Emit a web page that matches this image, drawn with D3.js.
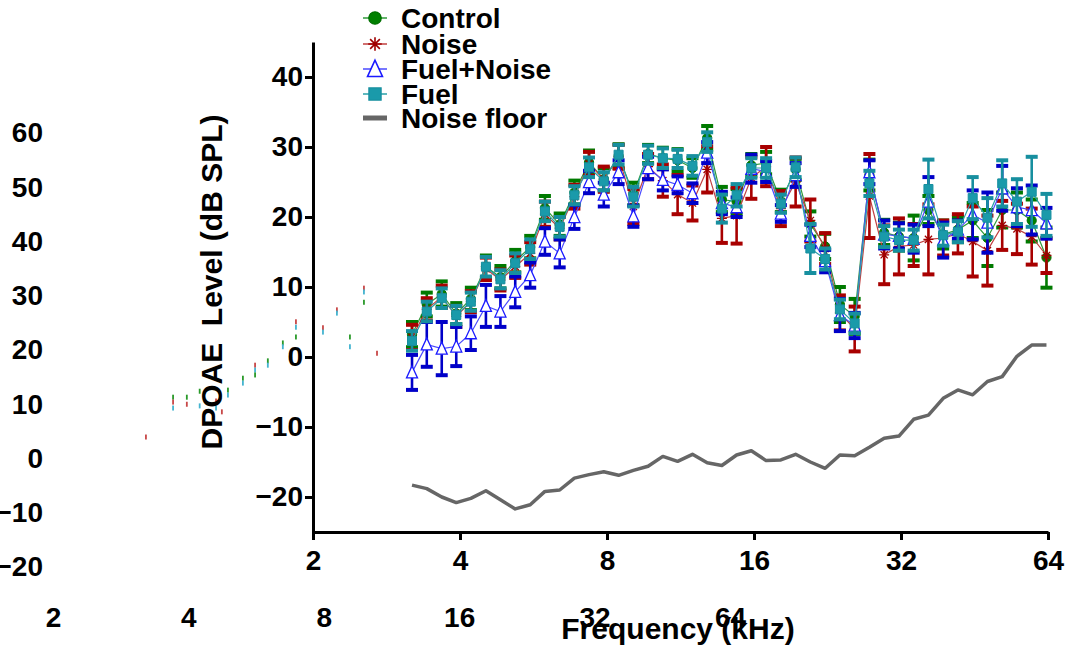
<!DOCTYPE html>
<html><head><meta charset="utf-8">
<script src="https://cdn.jsdelivr.net/npm/d3@7"></script>
<style>
body{margin:0;background:#fff}
text{font-family:"Liberation Sans",Arial,sans-serif;font-weight:bold;fill:#000}
</style>
</head><body>
<svg id="c" width="1065" height="649"></svg>
<script>
// ---------- data ----------
const freqs = [3.19,3.42,3.67,3.93,4.21,4.52,4.84,5.19,5.57,5.97,6.40,6.86,7.35,7.88,8.45,9.06,9.71,10.41,11.16,11.97,12.83,13.75,14.74,15.80,16.94,18.16,19.47,20.87,22.38,23.99,25.72,27.57,29.56,31.69,33.97,36.42,39.04,41.85,44.87,48.10,51.57,55.28,59.27,63.54];

const controlMean = [3.2,7.5,9.0,6.2,8.3,12.9,11.4,13.7,15.7,21.3,18.9,23.5,27.8,25.4,28.7,23.3,29.0,28.4,28.1,27.0,31.3,22.5,22.2,27.4,27.7,22.3,26.8,19.0,15.8,7.5,5.8,26.0,17.8,17.2,17.0,21.0,17.5,18.2,19.5,17.0,21.0,21.0,19.5,14.2];
const controlErr  = [1.8,1.7,1.8,1.5,1.6,1.6,1.6,1.6,1.6,1.7,1.6,1.7,1.7,1.6,1.7,1.6,1.3,1.5,1.6,1.4,1.7,1.8,1.8,1.6,1.6,1.6,1.5,1.8,1.8,2.5,2.5,2.2,1.8,2.0,3.2,2.0,2.0,1.8,2.5,4.0,2.5,2.5,3.0,4.3];

const noiseMean = [2.8,6.8,8.6,5.8,7.9,12.6,11.0,12.9,14.8,20.4,18.4,22.9,27.6,25.4,28.6,21.5,27.2,25.2,23.2,22.0,26.8,19.8,20.2,25.6,27.2,21.2,25.0,19.5,15.5,6.3,4.0,23.0,14.6,15.8,16.0,16.8,17.0,17.6,16.5,15.2,18.8,18.3,17.2,14.5];
const noiseErr  = [1.8,1.6,1.6,1.5,1.5,1.6,1.5,1.6,1.6,1.8,1.6,1.7,1.7,1.8,1.7,2.5,1.8,2.3,2.8,2.5,3.3,3.5,4.0,3.0,2.8,2.5,3.5,3.0,2.2,2.5,3.2,6.0,4.2,4.0,3.0,5.0,2.5,2.8,5.0,5.0,3.5,3.6,4.0,2.5];

const fuelNoiseMean = [-2.2,1.8,1.2,1.5,3.4,7.3,6.5,9.3,11.7,16.5,14.8,20.0,25.0,23.2,26.4,20.1,27.0,25.3,24.6,23.4,29.2,22.0,21.4,26.9,26.5,20.5,26.0,17.3,13.7,6.0,4.5,26.4,17.5,17.3,16.9,22.2,16.7,18.2,20.3,19.2,24.1,21.4,21.0,19.1];
const fuelNoiseErr  = [2.5,3.2,3.8,2.8,2.4,3.0,2.2,2.2,1.8,1.9,2.0,1.7,1.6,1.7,1.7,1.5,1.6,1.5,1.2,1.4,1.5,1.6,1.4,2.0,1.5,1.2,1.7,1.6,1.6,2.3,1.8,1.7,2.0,1.8,2.0,3.5,2.5,1.3,3.5,4.3,3.2,2.7,3.5,2.2];

const fuelMean = [2.3,6.5,8.4,6.0,7.9,12.9,11.1,13.4,15.4,20.8,18.6,23.1,27.1,25.1,28.9,22.9,28.9,28.4,28.3,27.3,30.7,21.2,23.1,27.0,27.0,21.9,27.1,15.5,14.0,6.8,4.8,24.8,17.2,16.7,16.7,24.0,17.4,17.9,22.7,19.9,24.8,22.2,23.6,20.3];
const fuelErr  = [1.4,1.4,1.4,1.3,1.3,1.4,1.3,1.4,1.4,1.4,1.4,1.3,1.4,1.3,1.4,1.4,1.3,1.4,1.3,1.4,1.4,2.0,1.6,1.4,1.4,1.3,1.4,3.5,1.5,1.4,1.4,1.8,1.5,1.5,1.5,4.2,1.5,1.5,3.0,2.8,3.3,3.2,5.0,3.0];

const noiseFloor = [-18.3,-18.8,-20.0,-20.8,-20.2,-19.1,-20.4,-21.7,-21.1,-19.2,-19.0,-17.3,-16.8,-16.4,-16.9,-16.2,-15.6,-14.2,-14.9,-13.9,-15.1,-15.5,-14.0,-13.4,-14.8,-14.7,-13.9,-15.0,-15.9,-14.0,-14.1,-12.9,-11.6,-11.3,-8.9,-8.3,-5.9,-4.7,-5.4,-3.5,-2.8,0.1,1.7,1.7];

const xTicks = [2,4,8,16,32,64];
const yTicks = [-20,-10,0,10,20,30,40];

// stray labels/marks left over from a second (hidden) axis set
const ghostYTicks = [-20,-10,0,10,20,30,40,50,60];
const ghostXTicks = [2,4,8,16,32,64];
const ghostFreq  = [3.22,3.70,3.70,3.70,3.97,3.97,4.24,4.24,4.61,4.61,4.75,4.90,4.90,5.29,5.29,5.63,5.63,5.63,6.01,6.01,6.49,6.49,6.94,6.94,6.94,7.97,7.97,8.56,8.56,9.15,9.15,9.83,9.83,9.83,10.51];
const ghostLevel = [3.96,11.3,10.4,9.3,11.3,10.0,12.4,9.7,10.6,9.3,8.6,12.6,11.7,14.8,13.9,17.2,16.3,15.4,18.0,17.2,21.3,20.6,25.2,24.2,22.4,24.1,23.3,27.4,26.8,22.4,20.6,31.4,30.7,28.8,19.4];
const ghostColor = ["r","g","r","c","g","r","g","c","r","c","r","g","c","g","c","r","c","g","g","c","g","c","r","c","g","r","c","r","c","g","c","r","c","g","r"];

const seriesNames = ["Control","Noise","Fuel+Noise","Fuel"];

// ---------- setup ----------
const svg = d3.select("#c");
const x = d3.scaleLog().base(2).domain([2,64]).range([313,1048]);
const y = d3.scaleLinear().domain([-25,45]).range([532,42]);
const gx = d3.scaleLog().base(2).domain([2,64]).range([53,730]);
const gy = d3.scaleLinear().domain([-20,60]).range([567,133]);

// ghost labels
const gAxL = svg.append("g").attr("transform","translate(43,0)")
  .call(d3.axisLeft(gy).tickValues(ghostYTicks).tickSize(0).tickPadding(0).tickFormat(d3.format("d")));
gAxL.select(".domain").remove();
gAxL.selectAll("text").attr("font-size",28).style("font-family",'"Liberation Sans",Arial,sans-serif').style("font-weight","bold").attr("fill","#000");
const gAxB = svg.append("g").attr("transform","translate(0,607)")
  .call(d3.axisBottom(gx).tickValues(ghostXTicks).tickSize(0).tickPadding(0).tickFormat(d3.format("d")));
gAxB.select(".domain").remove();
gAxB.selectAll("text").attr("font-size",28).style("font-family",'"Liberation Sans",Arial,sans-serif').style("font-weight","bold").attr("fill","#000");

const ghostCol = {r:"#c84848", g:"#2a9a2a", c:"#44b4d0"};
svg.append("g").selectAll("rect").data(ghostFreq).join("rect")
  .attr("x",(d,i)=>gx(d)-1).attr("y",(d,i)=>gy(ghostLevel[i])-2.5)
  .attr("width",1.8).attr("height",5)
  .attr("fill",(d,i)=>ghostCol[ghostColor[i]]);

// main axes
const axY = svg.append("g").attr("transform","translate(313,0)")
  .call(d3.axisLeft(y).tickValues(yTicks).tickSize(8).tickSizeOuter(0).tickPadding(2));
const axX = svg.append("g").attr("transform","translate(0,532)")
  .call(d3.axisBottom(x).tickValues(xTicks).tickSize(8).tickSizeOuter(0).tickPadding(10).tickFormat(d3.format("d")));
[axY,axX].forEach(a=>{
  a.select(".domain").attr("stroke","#000").attr("stroke-width",3);
  a.selectAll(".tick line").attr("stroke","#000").attr("stroke-width",3);
  a.selectAll("text").attr("font-size",28).style("font-family",'"Liberation Sans",Arial,sans-serif').style("font-weight","bold").attr("fill","#000");
});

// axis titles
svg.append("text").attr("x",678).attr("y",639).attr("text-anchor","middle").attr("font-size",30).text("Frequency (kHz)");
svg.append("text").attr("transform","translate(222,282) rotate(-90)").attr("text-anchor","middle")
  .attr("font-size",30).style("white-space","pre").text("DPOAE  Level (dB SPL)");

// noise floor
svg.append("path").datum(noiseFloor)
  .attr("fill","none").attr("stroke","#666").attr("stroke-width",3.5).attr("stroke-linejoin","round")
  .attr("d", d3.line().x((d,i)=>x(freqs[i])).y(d=>y(d)));

// marker shapes
function markerPath(kind, s){
  if(kind==="circle") return d3.symbol(d3.symbolCircle, Math.PI*s*s)();
  if(kind==="square") return `M${-s},${-s}H${s}V${s}H${-s}Z`;
  if(kind==="triangle") return `M0,${-s}L${s*0.85},${s*0.85}L${-s*0.85},${s*0.85}Z`;
  if(kind==="star"){const a=s*0.72;return `M${-s},0L${s},0M0,${-s}L0,${s}M${-a},${-a}L${a},${a}M${-a},${a}L${a},${-a}`;}
}

const series = [
  {mean:controlMean, err:controlErr, line:"#2f9a3a", bar:"#007a00", kind:"circle", size:4.6, fill:"#008000", stroke:"#007000", sw:1},
  {mean:noiseMean, err:noiseErr, line:"#c04040", bar:"#a80000", kind:"star", size:5, fill:"none", stroke:"#a00000", sw:1.3},
  {mean:fuelNoiseMean, err:fuelNoiseErr, line:"#4a4aff", bar:"#0000c8", kind:"triangle", size:6.5, fill:"#fff", stroke:"#1a1aff", sw:1.3},
  {mean:fuelMean, err:fuelErr, line:"#2aa0a8", bar:"#178f9f", kind:"square", size:4.5, fill:"#1a9aaa", stroke:"#178f9f", sw:1}
];

series.forEach(s=>{
  const g = svg.append("g");
  g.append("path").datum(s.mean).attr("fill","none").attr("stroke",s.line).attr("stroke-width",1.2)
    .attr("d", d3.line().x((d,i)=>x(freqs[i])).y(d=>y(d)));
  const eb = g.append("g").selectAll("g").data(s.mean).join("g");
  eb.append("line").attr("x1",(d,i)=>x(freqs[i])).attr("x2",(d,i)=>x(freqs[i]))
    .attr("y1",(d,i)=>y(d+s.err[i])).attr("y2",(d,i)=>y(d-s.err[i]))
    .attr("stroke",s.bar).attr("stroke-width",2.6);
  [1,-1].forEach(sg=>{
    eb.append("line").attr("x1",(d,i)=>x(freqs[i])-6).attr("x2",(d,i)=>x(freqs[i])+6)
      .attr("y1",(d,i)=>y(d+sg*s.err[i])).attr("y2",(d,i)=>y(d+sg*s.err[i]))
      .attr("stroke",s.bar).attr("stroke-width",4);
  });
  g.append("g").selectAll("path").data(s.mean).join("path")
    .attr("transform",(d,i)=>`translate(${x(freqs[i])},${y(d)})`)
    .attr("d", markerPath(s.kind, s.size))
    .attr("fill",s.fill).attr("stroke",s.stroke).attr("stroke-width",s.sw);
});

// legend
const legY = [18,44,69,94,118];
const leg = svg.append("g");
seriesNames.forEach((n,i)=>{
  const s = series[i];
  leg.append("line").attr("x1",363).attr("x2",387).attr("y1",legY[i]).attr("y2",legY[i]).attr("stroke",s.line).attr("stroke-width",1.5);
  leg.append("path").attr("transform",`translate(375,${legY[i]})`).attr("d",markerPath(s.kind, s.size*1.35))
    .attr("fill",s.fill).attr("stroke",s.stroke).attr("stroke-width",s.sw+0.3);
  leg.append("text").attr("x",401).attr("y",legY[i]+10).attr("font-size",28).text(n);
});
leg.append("line").attr("x1",363).attr("x2",387).attr("y1",legY[4]).attr("y2",legY[4]).attr("stroke","#666").attr("stroke-width",5);
leg.append("text").attr("x",401).attr("y",legY[4]+10).attr("font-size",28).text("Noise floor");
</script>
</body></html>
